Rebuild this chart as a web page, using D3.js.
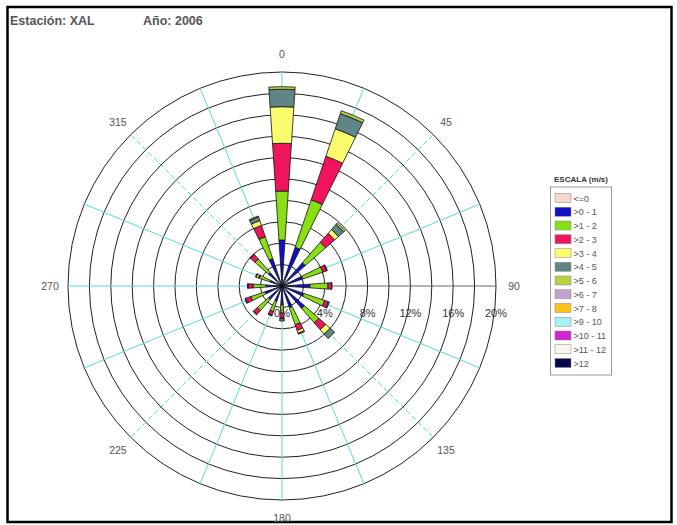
<!DOCTYPE html>
<html>
<head>
<meta charset="utf-8">
<script src="https://cdn.jsdelivr.net/npm/d3@7"></script>
<style>
  html, body { margin: 0; padding: 0; background: #fff; }
  svg { display: block; }
  text { font-family: Arial, "Liberation Sans", sans-serif; }
</style>
</head>
<body>
<svg id="chart" width="677" height="525"></svg>
<script>
// ---------- DATA ----------
const station = "XAL";
const year = "2006";
const directions = [0, 22.5, 45, 67.5, 90, 112.5, 135, 157.5, 180, 202.5, 225, 247.5, 270, 292.5, 315, 337.5];
const speedClasses = ["<=0", ">0 - 1", ">1 - 2", ">2 - 3", ">3 - 4", ">4 - 5", ">5 - 6", ">6 - 7", ">7 - 8", ">9 - 10", ">10 - 11", ">11 - 12", ">12"];
const classColors = ["#f6d6cf", "#1010c4", "#88e014", "#f0145c", "#fbfb6e", "#5f8686", "#bcd043", "#c6a3cf", "#ffc21a", "#a6f2f2", "#d025d0", "#f8f8ef", "#05054f"];
// frequency (%) per direction for each speed class
const calm   = [0,0,0,0,0,0,0,0,0,0,0,0,0,0,0,0];
const s0_1   = [4.30,3.83,2.90,2.06,2.62,2.15,2.80,2.15,1.78,1.50,1.68,1.68,1.50,1.21,1.68,2.71];
const s1_2   = [4.58,4.67,2.52,1.96,1.68,2.06,1.78,1.68,0.75,1.03,1.40,1.40,1.21,1.03,1.68,2.15];
const s2_3   = [4.46,4.30,1.12,0.37,0.33,0.37,0.84,0.56,0.47,0.37,0.47,0.51,0.47,0.10,0.56,1.12];
const s3_4   = [3.42,2.71,0.47,0,0,0,0.56,0.28,0.05,0,0,0,0,0.20,0,0.47];
const s4_5   = [1.63,1.50,0.65,0.09,0.05,0.09,0.56,0.09,0.23,0.05,0.05,0.08,0.05,0.08,0.06,0.37];
const s5_6   = [0.24,0.28,0.19,0,0,0,0,0,0,0,0,0,0,0,0,0.09];
const s6_7   = [0,0,0,0,0,0,0,0,0,0,0,0,0,0,0,0];
const s7_8   = [0,0,0,0,0,0,0,0,0,0,0,0,0,0,0,0];
const s9_10  = [0,0,0,0,0,0,0,0,0,0,0,0,0,0,0,0];
const s10_11 = [0,0,0,0,0,0,0,0,0,0,0,0,0,0,0,0];
const s11_12 = [0,0,0,0,0,0,0,0,0,0,0,0,0,0,0,0];
const s12    = [0,0,0,0,0,0,0,0,0,0,0,0,0,0,0,0];
const ringValues = [2,4,6,8,10,12,14,16,18,20];
const pctLabels = [0,4,8,12,16,20];
const angleLabels = [0,45,90,135,180,225,270,315];

// ---------- LAYOUT ----------
const svg = d3.select("#chart");
const cx = 282, cy = 286;
const rScale = d3.scaleLinear().domain([0, 20]).range([0, 214]);
const color = d3.scaleOrdinal().domain(speedClasses).range(classColors);
const seriesArrays = [calm, s0_1, s1_2, s2_3, s3_4, s4_5, s5_6, s6_7, s7_8, s9_10, s10_11, s11_12, s12];
const table = directions.map((d, i) => {
  const row = { dir: d };
  speedClasses.forEach((c, k) => row[c] = seriesArrays[k][i]);
  return row;
});
const stacked = d3.stack().keys(speedClasses)(table);

// frame
svg.append("rect").attr("x", 7.5).attr("y", 7).attr("width", 664).attr("height", 515)
  .attr("fill", "#fff").attr("stroke", "#000").attr("stroke-width", 2.5);

// title
const title = svg.append("text").attr("x", 10).attr("y", 25)
  .attr("font-size", 12.5).attr("font-weight", "bold").attr("fill", "#555");
title.append("tspan").text("Estación:  " + station);
title.append("tspan").attr("x", 143).text("Año:   " + year);

const g = svg.append("g").attr("transform", `translate(${cx},${cy})`);

// rings
g.selectAll("circle.ring").data(ringValues).join("circle")
  .attr("class", "ring").attr("r", d => rScale(d))
  .attr("fill", "none").attr("stroke", "#222").attr("stroke-width", 1);

// spokes
const rad = a => (a - 90) * Math.PI / 180;
g.selectAll("line.spoke").data(directions).join("line")
  .attr("class", "spoke")
  .attr("x1", 0).attr("y1", 0)
  .attr("x2", d => rScale(20) * Math.cos(rad(d)))
  .attr("y2", d => rScale(20) * Math.sin(rad(d)))
  .attr("stroke", d => d === 90 ? "#444" : "#52dcd8")
  .attr("stroke-width", d => d === 90 ? 0.8 : 1)
  .attr("stroke-dasharray", d => (d % 90 === 45) ? "5,3" : null);

// petals
const half = 3.8 * Math.PI / 180;
const arc = d3.arc();
const layers = g.selectAll("g.layer").data(stacked).join("g").attr("class", "layer")
  .attr("fill", d => color(d.key));
layers.selectAll("path").data(d => d.filter(p => p[1] - p[0] > 0)).join("path")
  .attr("d", p => {
    const a = p.data.dir * Math.PI / 180;
    return arc({ innerRadius: rScale(p[0]), outerRadius: rScale(p[1]), startAngle: a - half, endAngle: a + half });
  })
  .attr("stroke", "#111").attr("stroke-width", 0.8);

// percent labels
g.selectAll("text.pct").data(pctLabels).join("text").attr("class", "pct")
  .attr("x", d => rScale(d)).attr("y", 31)
  .attr("text-anchor", "middle").attr("font-size", 11).attr("fill", "#333")
  .text(d => d + "%");

// angle labels
g.selectAll("text.ang").data(angleLabels).join("text").attr("class", "ang")
  .attr("x", d => 232 * Math.cos(rad(d)))
  .attr("y", d => 232 * Math.sin(rad(d)) + 4)
  .attr("text-anchor", "middle").attr("font-size", 10.5).attr("fill", "#555")
  .text(d => d);

// legend
const lg = svg.append("g").attr("transform", "translate(550,0)");
lg.append("text").attr("x", 31).attr("y", 182).attr("text-anchor", "middle")
  .attr("font-size", 8).attr("font-weight", "bold").attr("fill", "#333").text("ESCALA (m/s)");
lg.append("rect").attr("x", 0.5).attr("y", 187).attr("width", 61).attr("height", 188)
  .attr("fill", "#fff").attr("stroke", "#999").attr("stroke-width", 1);
const rows = lg.selectAll("g.row").data(speedClasses).join("g").attr("class", "row")
  .attr("transform", (d, i) => `translate(0,${198 + i * 13.75})`);
rows.append("rect").attr("x", 5).attr("y", -4.5).attr("width", 16).attr("height", 9)
  .attr("fill", d => color(d)).attr("stroke", "#888").attr("stroke-width", 0.5);
rows.append("text").attr("x", 23.5).attr("y", 3.5).attr("font-size", 9).attr("fill", "#555")
  .text(d => d);
</script>
</body>
</html>
